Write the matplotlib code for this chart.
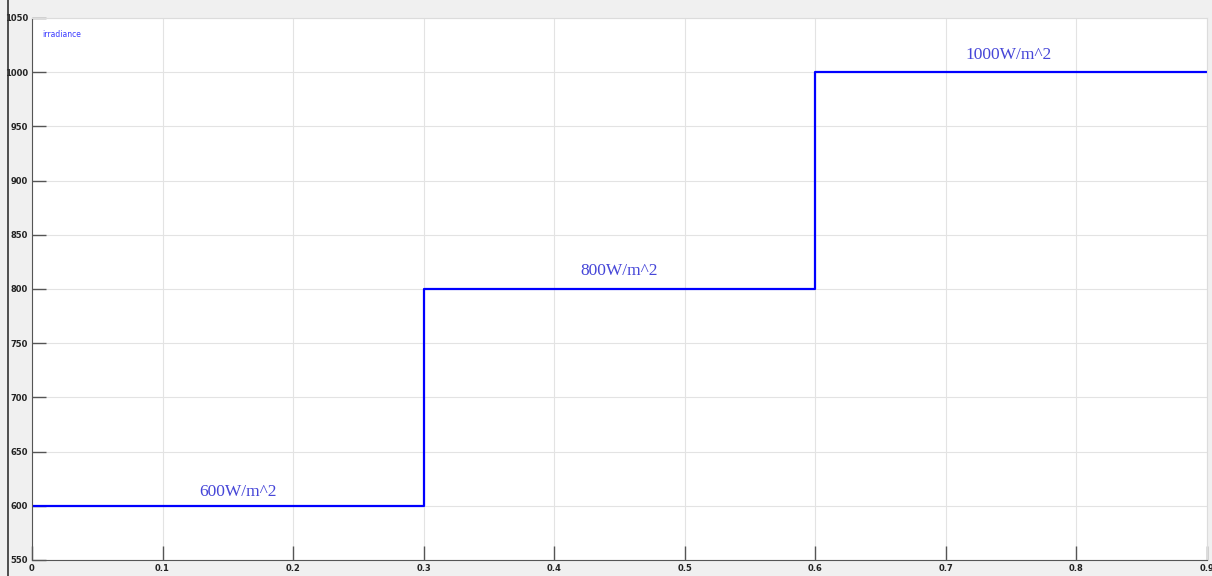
import matplotlib
matplotlib.use("Agg")
import matplotlib.pyplot as plt
from matplotlib.lines import Line2D

# step input: irradiance over time
step_times = [0.0, 0.3, 0.6, 0.9]
irradiance = [600, 800, 1000, 1000]

label_text = ["600W/m^2", "800W/m^2", "1000W/m^2"]
label_x = [0.158, 0.450, 0.748]
label_y = [613, 817, 1016]

x_ticks = [0, 0.1, 0.2, 0.3, 0.4, 0.5, 0.6, 0.7, 0.8, 0.9]
x_tick_labels = ["0", "0.1", "0.2", "0.3", "0.4", "0.5", "0.6", "0.7", "0.8", "0.9"]
y_ticks = [550, 600, 650, 700, 750, 800, 850, 900, 950, 1000, 1050]

fig = plt.figure(figsize=(12.12, 5.76), dpi=100)
fig.patch.set_facecolor("#f0f0f0")

ax = fig.add_axes([0.0264, 0.0278, 0.9695, 0.941])
ax.set_facecolor("white")

ax.step(
    step_times,
    irradiance,
    where="post",
    color="#0000ff",
    linewidth=1.6,
)

for t, xx, yy in zip(label_text, label_x, label_y):
    ax.text(
        xx, yy, t,
        ha="center", va="center",
        fontsize=12.5,
        family="Liberation Serif",
        color="#4646d8",
    )

ax.text(
    0.009, 0.977, "irradiance",
    transform=ax.transAxes,
    ha="left", va="top",
    fontsize=5.5,
    color="#3a3aff",
)

ax.set_xlim(0, 0.9)
ax.set_ylim(550, 1050)
ax.set_xticks(x_ticks)
ax.set_xticklabels(x_tick_labels)
ax.set_yticks(y_ticks)

ax.grid(True, color="#e3e3e3", linewidth=0.8)
ax.set_axisbelow(True)

ax.tick_params(
    direction="in",
    length=10,
    width=1,
    color="#555555",
    labelsize=6,
    pad=3,
)
for lab in ax.get_xticklabels() + ax.get_yticklabels():
    lab.set_fontweight("bold")
    lab.set_color("#222222")

ax.spines["left"].set_color("#555555")
ax.spines["bottom"].set_color("#555555")
ax.spines["top"].set_color("#dcdcdc")
ax.spines["right"].set_color("#dcdcdc")

# window edge on the left
fig.add_artist(Line2D([8 / 1212, 8 / 1212], [0, 1], color="#333333",
                      linewidth=1.2, transform=fig.transFigure))

fig.savefig("out.png", dpi=100, facecolor=fig.get_facecolor())
